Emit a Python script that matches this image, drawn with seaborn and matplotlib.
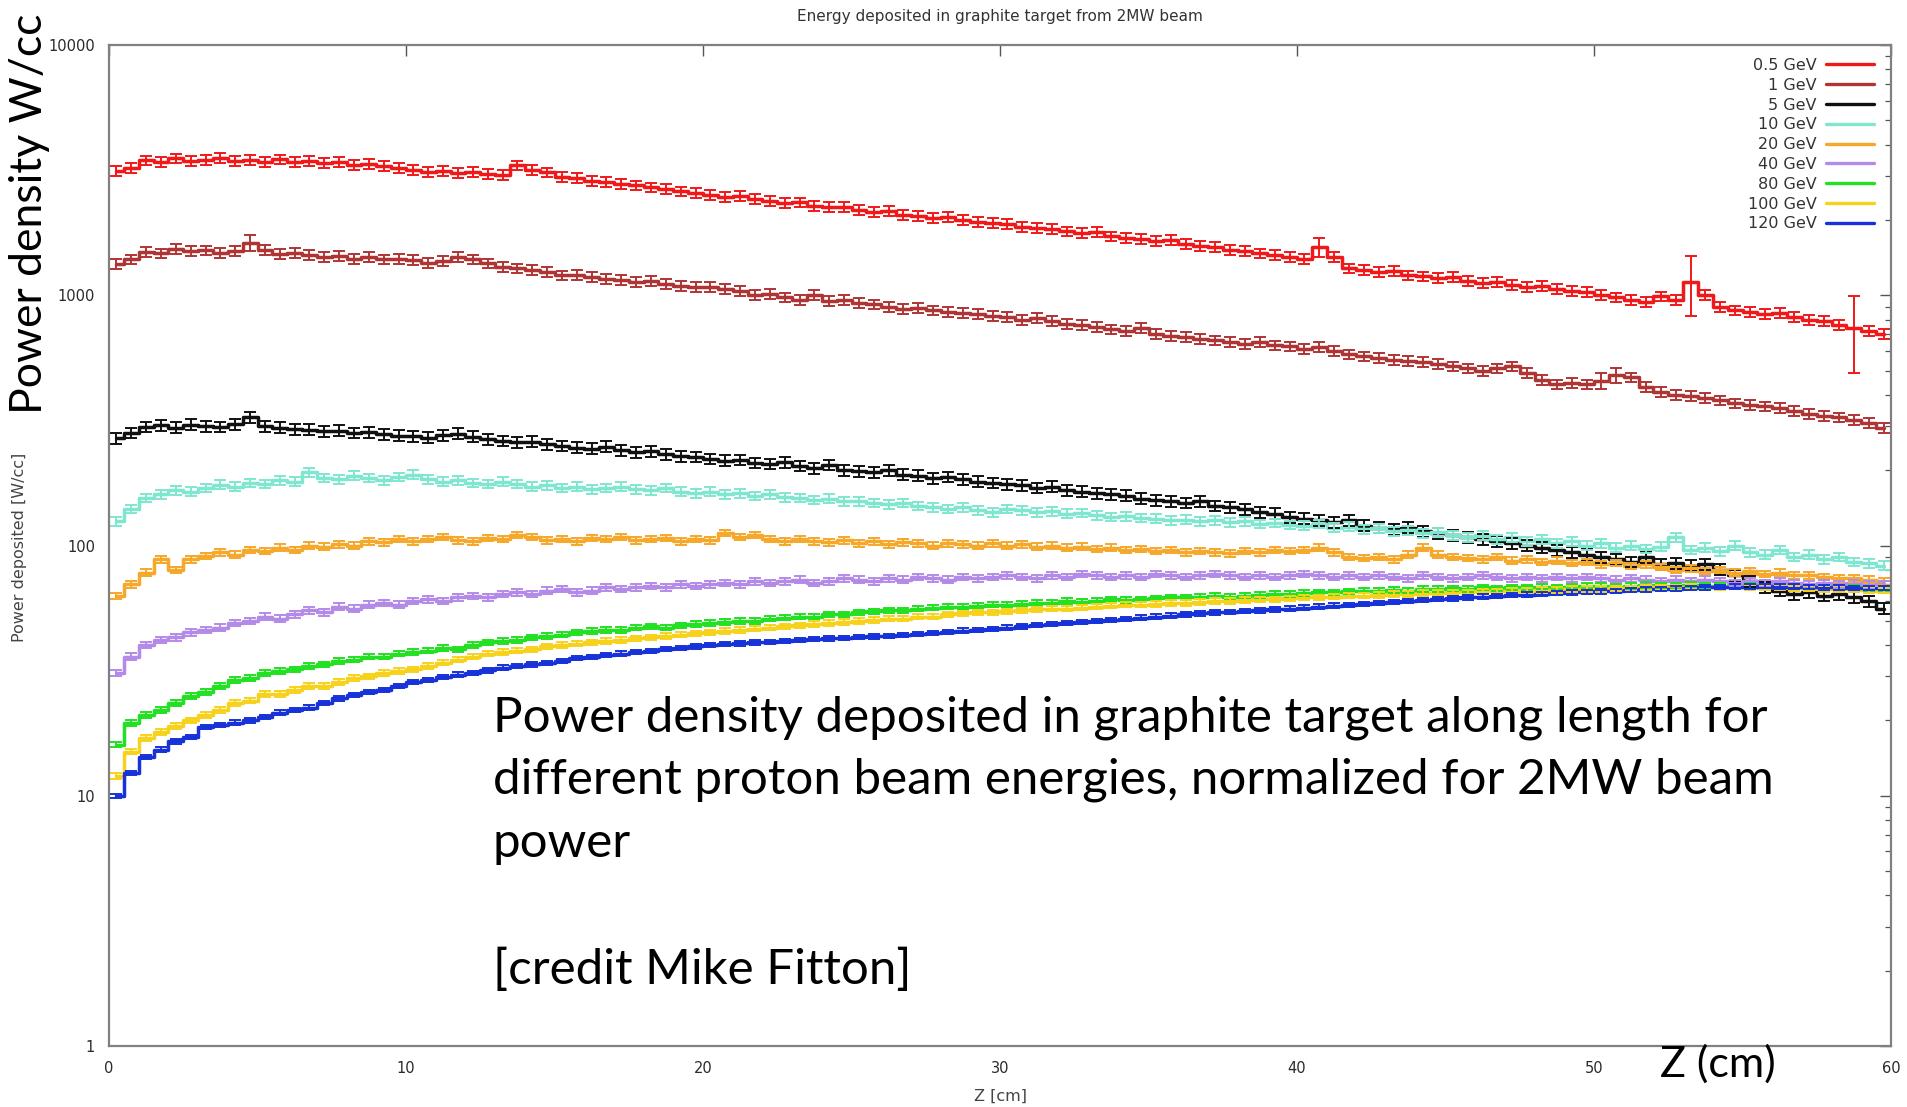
import numpy as np
import pandas as pd
import matplotlib
matplotlib.use("Agg")
import matplotlib.pyplot as plt
import seaborn as sns
from matplotlib.lines import Line2D
from matplotlib.ticker import LogLocator, NullFormatter

# ---------------- data ----------------
energies = ["0.5 GeV", "1 GeV", "5 GeV", "10 GeV", "20 GeV", "40 GeV", "80 GeV", "100 GeV", "120 GeV"]
colors = ["#f01818", "#b03434", "#111111", "#7fe6cf", "#f5a82a", "#b48ae8", "#22e022", "#f7d21c", "#1632d8"]

z_cm = np.arange(0.25, 60.0, 0.5)  # bin centres, 0.5 cm bins

p_0p5 = [3150, 3230, 3460, 3420, 3520, 3450, 3480, 3540, 3440, 3470, 3410, 3490, 3400, 3450, 3380, 3400, 3330, 3360, 3280, 3230,
         3180, 3120, 3150, 3090, 3110, 3050, 3020, 3300, 3180, 3100, 2980, 2950, 2870, 2840, 2790, 2750, 2700, 2660, 2600, 2570,
         2520, 2470, 2500, 2420, 2380, 2340, 2350, 2280, 2250, 2260, 2200, 2150, 2170, 2100, 2080, 2040, 2060, 2000, 1970, 1950,
         1930, 1880, 1860, 1840, 1800, 1780, 1790, 1720, 1700, 1680, 1650, 1660, 1600, 1580, 1560, 1520, 1500, 1470, 1450, 1420,
         1400, 1560, 1420, 1280, 1260, 1240, 1250, 1200, 1190, 1170, 1180, 1140, 1120, 1130, 1100, 1080, 1090, 1060, 1040, 1030,
         1000, 980, 960, 940, 990, 960, 1130, 1000, 900, 870, 860, 840, 850, 820, 800, 790, 760, 740, 720, 700]
p_1 = [1330, 1390, 1490, 1470, 1530, 1500, 1510, 1480, 1500, 1620, 1520, 1460, 1480, 1450, 1420, 1440, 1400, 1420, 1390, 1400,
       1380, 1350, 1370, 1420, 1390, 1340, 1300, 1280, 1260, 1240, 1200, 1210, 1180, 1160, 1150, 1130, 1140, 1110, 1090, 1080,
       1080, 1060, 1040, 1000, 1010, 980, 960, 1000, 950, 960, 930, 920, 900, 880, 890, 870, 860, 850, 840, 830,
       820, 800, 810, 790, 770, 760, 750, 730, 720, 740, 700, 690, 680, 670, 660, 650, 640, 650, 630, 625,
       610, 620, 600, 580, 570, 560, 550, 545, 540, 530, 520, 510, 500, 510, 520, 490, 460, 440, 445, 440,
       455, 480, 470, 430, 410, 400, 395, 390, 380, 370, 365, 360, 355, 345, 335, 330, 325, 318, 310, 295]
p_5 = [268, 282, 298, 302, 296, 304, 300, 298, 305, 325, 300, 296, 292, 290, 286, 288, 282, 284, 278, 275,
       274, 270, 276, 280, 272, 266, 262, 258, 260, 254, 250, 246, 244, 248, 240, 236, 238, 232, 228, 226,
       222, 218, 220, 214, 212, 215, 208, 204, 210, 200, 198, 196, 200, 192, 190, 186, 188, 184, 180, 178,
       176, 174, 170, 172, 166, 164, 162, 160, 158, 154, 152, 150, 148, 150, 144, 142, 140, 136, 134, 130,
       128, 126, 124, 126, 120, 118, 116, 118, 114, 112, 110, 108, 106, 104, 102, 100, 98, 96, 94, 92,
       90, 88, 86, 90, 84, 85, 83, 84, 80, 76, 72, 68, 66, 64, 65, 63, 64, 62, 60, 56]
p_10 = [125, 140, 155, 160, 166, 164, 170, 175, 172, 178, 176, 182, 180, 196, 186, 184, 190, 186, 182, 188,
        192, 184, 180, 182, 178, 176, 180, 176, 172, 174, 170, 172, 168, 170, 172, 168, 166, 170, 164, 162,
        164, 160, 162, 158, 160, 156, 155, 152, 154, 150, 150, 148, 146, 148, 144, 142, 140, 142, 138, 136,
        140, 138, 136, 137, 134, 135, 132, 130, 131, 129, 128, 126, 127, 125, 126, 124, 125, 122, 123, 121,
        120, 122, 118, 119, 116, 117, 114, 115, 112, 113, 110, 108, 110, 106, 108, 104, 106, 102, 104, 100,
        102, 98, 100, 97, 99, 108, 96, 98, 95, 100, 94, 92, 96, 90, 92, 88, 90, 86, 85, 83]
p_20 = [63, 70, 78, 88, 80, 88, 91, 94, 92, 96, 95, 98, 96, 100, 99, 101, 100, 104, 103, 106,
        104, 106, 108, 105, 104, 107, 106, 110, 108, 105, 106, 104, 107, 106, 108, 105, 106, 107, 104, 106,
        105, 112, 108, 110, 106, 104, 106, 104, 103, 105, 102, 104, 101, 103, 102, 100, 102, 101, 100, 102,
        100, 101, 99, 100, 98, 99, 97, 98, 96, 97, 95, 96, 94, 95, 94, 93, 95, 94, 96, 95,
        96, 98, 94, 90, 89, 90, 88, 92, 98, 92, 90, 89, 88, 90, 87, 88, 86, 87, 85, 86,
        84, 85, 83, 84, 82, 80, 81, 79, 80, 78, 79, 77, 78, 76, 76, 75, 74, 74, 73, 72]
p_40 = [31, 36, 40, 42, 43, 45, 46, 47, 49, 50, 52, 51, 53, 55, 54, 57, 56, 58, 59, 58,
        60, 61, 60, 62, 63, 62, 64, 65, 64, 66, 67, 65, 66, 68, 67, 68, 69, 68, 70, 69,
        70, 71, 70, 72, 71, 72, 73, 71, 72, 74, 73, 72, 74, 73, 75, 74, 73, 75, 74, 75,
        76, 75, 74, 76, 75, 77, 76, 75, 76, 75, 77, 76, 75, 76, 77, 76, 75, 76, 75, 76,
        77, 76, 75, 76, 75, 76, 75, 74, 76, 75, 74, 75, 76, 75, 74, 75, 74, 75, 74, 75,
        74, 73, 74, 73, 72, 73, 72, 73, 72, 71, 72, 71, 72, 71, 70, 71, 70, 71, 70, 70]
p_80 = [16, 19.5, 21, 22, 23.5, 25, 26, 27.5, 29, 29.5, 31, 31.5, 32, 33, 33.5, 34.5, 35, 36, 36, 37,
        37.5, 38, 39, 38.5, 40, 41, 41.5, 42, 43, 43.5, 44, 45, 45.5, 46, 46, 47, 47.5, 47, 48, 48.5,
        49, 49.5, 50, 50, 51, 51.5, 52, 52, 53, 53, 54, 54.5, 55, 55, 56, 56.5, 57, 57, 57.5, 58,
        58, 58.5, 59, 59, 60, 59.5, 60, 61, 60.5, 61, 61.5, 62, 62, 62.5, 63, 62.5, 63, 63.5, 64, 64,
        64.5, 65, 65, 65.5, 66, 66, 66.5, 66, 67, 67, 67.5, 67, 68, 67.5, 68, 68, 68.5, 68, 68.5, 69,
        69, 68.5, 69, 69.5, 69, 69, 69.5, 69, 69, 68.5, 69, 68.5, 68, 68.5, 68, 68, 67.5, 68, 67.5, 67]
p_100 = [12, 15, 17, 18, 19, 20, 21, 22, 23.5, 24, 25.5, 25.5, 26.5, 27.5, 27.5, 28.5, 29.5, 30, 31, 31.5,
         32, 33, 34, 35, 36, 37, 37.5, 38, 38.5, 39.5, 40, 40.5, 41, 41.5, 42, 42.5, 43, 43.5, 44, 44.5,
         45, 45.5, 46, 46.5, 47, 47.5, 48, 48.5, 49, 49.5, 50, 50.5, 51, 51, 52, 52, 53, 53.5, 54, 54,
         54.5, 55, 55.5, 56, 56, 56.5, 57, 57.5, 58, 58, 58.5, 59, 59, 59.5, 60, 60, 60.5, 61, 61, 61.5,
         62, 62, 62.5, 63, 63, 63.5, 64, 64, 64.5, 64.5, 65, 65, 65.5, 65.5, 66, 66, 66.5, 66.5, 67, 67,
         67, 67.5, 67.5, 68, 68, 68, 68.5, 68, 68, 68.5, 68, 68, 68, 67.5, 67.5, 67, 67, 67, 66.5, 66]
p_120 = [10, 12.3, 14.3, 15.3, 16.5, 17.2, 18.8, 19.2, 19.6, 20, 20.7, 21.5, 22, 22.5, 23.5, 24.5, 25.2, 26, 26.5, 27.5,
         28.5, 29, 29.8, 30.5, 31, 31.7, 32.5, 33, 33.5, 34, 34.5, 35.5, 35.8, 36.5, 37, 37.5, 38, 38.5, 39, 39.5,
         40, 40.3, 40.6, 41, 41.2, 41.5, 41.8, 42.2, 42.5, 42.8, 43, 43.3, 43.5, 44, 44.3, 44.8, 45.2, 45.7, 46, 46.5,
         47, 47.5, 48, 48.5, 49, 49.5, 50, 50.5, 51, 51.5, 52, 52.5, 53, 53.5, 54, 54.3, 54.7, 55, 55.5, 56,
         56.5, 57, 57.5, 58, 58.5, 59, 59.5, 60, 60.5, 61, 61.5, 62, 62.5, 63, 63.3, 63.7, 64, 64.5, 65, 65.2,
         65.5, 66, 66.5, 66.8, 67, 67.3, 67.5, 68, 68.2, 68.5, 68.5, 68.7, 68.5, 68.5, 68.3, 68, 68, 67.8, 67.5, 67.5]

series_values = [p_0p5, p_1, p_5, p_10, p_20, p_40, p_80, p_100, p_120]
rel_err = [0.045, 0.045, 0.05, 0.04, 0.03, 0.03, 0.025, 0.025, 0.02]
err_override = {"0.5 GeV": {81: 0.09, 106: 0.27, 117: 0.34},
                "1 GeV": {9: 0.07, 100: 0.07, 101: 0.07}}

rows = []
for name, vals in zip(energies, series_values):
    for z, v in zip(z_cm, vals):
        rows.append((name, z, v))
df = pd.DataFrame(rows, columns=["energy", "z", "power"])

# ---------------- figure ----------------
sns.set_style("white")
plt.rcParams["font.family"] = ["DejaVu Sans"]

W, H = 1907, 1107
def fx(px):
    return px / W
def fy(py):
    return 1 - py / H

fig = plt.figure(figsize=(W / 100, H / 100), dpi=100)
ax = fig.add_axes([fx(109), fy(1046), (1891 - 109) / W, (1046 - 45) / H])

sns.lineplot(data=df, x="z", y="power", hue="energy", hue_order=energies,
             palette=colors, drawstyle="steps-mid", lw=2.5, legend=False,
             estimator=None, sort=False, ax=ax)

for name, vals, c, re in zip(energies, series_values, colors, rel_err):
    v = np.asarray(vals, dtype=float)
    r = np.full(len(v), re)
    for i, e in err_override.get(name, {}).items():
        r[i] = e
    ax.errorbar(z_cm, v, yerr=v * r, fmt="none", ecolor=c, elinewidth=1.4,
                capsize=4.5, capthick=1.4, zorder=2)

ax.set_yscale("log")
ax.set_xlim(0, 60)
ax.set_ylim(1, 10000)
ax.set_xticks([0, 10, 20, 30, 40, 50, 60])
ax.set_yticks([1, 10, 100, 1000, 10000], labels=["1", "10", "100", "1000", "10000"])
ax.yaxis.set_minor_locator(LogLocator(base=10, subs=np.arange(2, 10)))
ax.yaxis.set_minor_formatter(NullFormatter())
ax.tick_params(which="both", direction="in", top=True, right=True, colors="#555555",
               labelcolor="#2a2a2a", labelsize=10.5)
ax.tick_params(which="major", length=8, width=1.0)
ax.tick_params(which="minor", length=4, width=0.9)
ax.tick_params(axis="y", pad=10)
ax.tick_params(axis="x", pad=11)
ax.set_xlabel("")
ax.set_ylabel("")
for s in ax.spines.values():
    s.set_color("#808080")
    s.set_linewidth(1.6)

handles = [Line2D([], [], color=c, lw=2.4) for c in colors]
leg = ax.legend(handles, energies, loc="upper right", bbox_to_anchor=(fx(1874), fy(58)),
                bbox_transform=fig.transFigure, frameon=False, markerfirst=False,
                fontsize=11.5, handlelength=3.0, handletextpad=0.6, labelspacing=0.3,
                borderpad=0, borderaxespad=0)
for t in leg.get_texts():
    t.set_color("#333333")

# gnuplot-style labels
fig.text(fx(1000), fy(17), "Energy deposited in graphite target from 2MW beam",
         ha="center", va="center", fontsize=11, color="#333333")
fig.text(fx(1000), fy(1096), "Z [cm]", ha="center", va="center", fontsize=11.5, color="#444444")
fig.text(fx(20), fy(547), "Power deposited [W/cc]", rotation=90, ha="center", va="center",
         fontsize=11.5, color="#444444")

# slide overlay text
big = dict(family=["Lato", "DejaVu Sans"], color="black")
fig.text(fx(30), fy(214), "Power density W/cc", rotation=90, ha="center", va="center",
         fontsize=32, **big)
fig.text(fx(1660), fy(1077), "Z (cm)", ha="left", va="baseline", fontsize=31, **big)
lines = ["Power density deposited in graphite target along length for",
         "different proton beam energies, normalized for 2MW beam",
         "power",
         "[credit Mike Fitton]"]
for txt, base in zip(lines, [731, 794, 857, 984]):
    fig.text(fx(493), fy(base), txt, ha="left", va="baseline", fontsize=35.5, **big)

fig.savefig("out.png", dpi=100, facecolor="white")
